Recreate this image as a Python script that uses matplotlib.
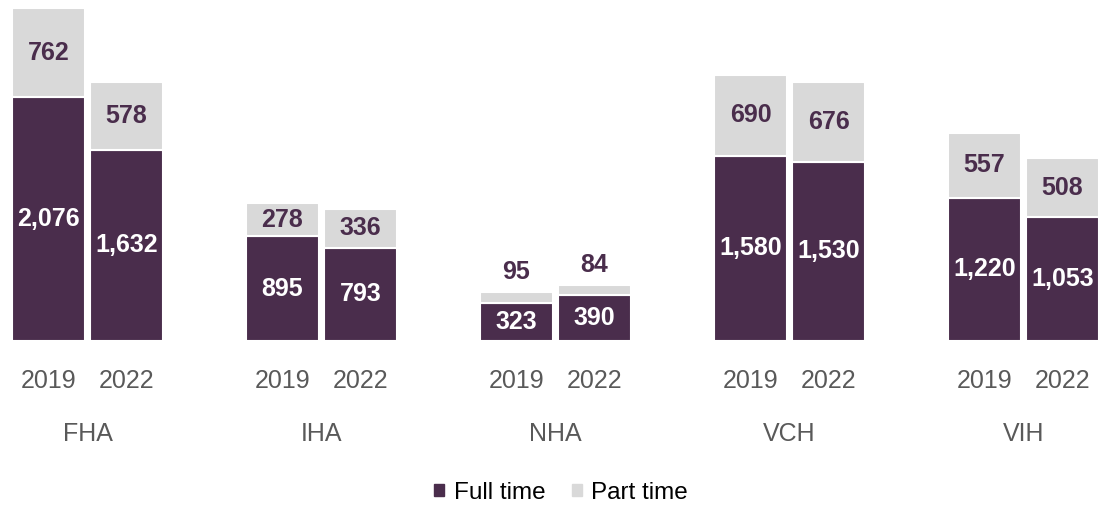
import numpy as np
import matplotlib
matplotlib.use('Agg')
import matplotlib.pyplot as plt
from matplotlib.patches import Patch

plt.rcParams['font.family'] = ['Liberation Sans Narrow', 'Liberation Sans', 'DejaVu Sans']

# datos
regiones = ['FHA', 'IHA', 'NHA', 'VCH', 'VIH']
anios = ['2019', '2022']
full_2019 = [2076, 895, 323, 1580, 1220]
full_2022 = [1632, 793, 390, 1530, 1053]
part_2019 = [762, 278, 95, 690, 557]
part_2022 = [578, 336, 84, 676, 508]

morado = '#4A2D4C'
gris = '#D9D9D9'
texto = '#595959'

fig = plt.figure(figsize=(10.98, 5.08), dpi=100)
ax = fig.add_axes([0, 167/508, 1, 341/508])

x = np.arange(len(regiones))
ancho = 0.312
desp = 0.1667

posiciones = []
etiquetas = []
for k, (full, part) in enumerate([(full_2019, part_2019), (full_2022, part_2022)]):
    xs = x + (k * 2 - 1) * desp
    ax.bar(xs, full, ancho, color=morado, edgecolor='white', linewidth=1.5)
    ax.bar(xs, part, ancho, bottom=full, color=gris, edgecolor='white', linewidth=1.5)
    for xi, f, p in zip(xs, full, part):
        ax.text(xi, f / 2, f'{f:,}', ha='center', va='center', color='white',
                fontsize=18, fontweight='bold')
        if p > 200:
            ax.text(xi, f + p / 2, f'{p:,}', ha='center', va='center', color=morado,
                    fontsize=18, fontweight='bold')
        else:
            # segmento muy pequeño: etiqueta arriba
            ax.text(xi, f + p + 70, f'{p:,}', ha='center', va='bottom', color=morado,
                    fontsize=18, fontweight='bold')
    posiciones += list(xs)
    etiquetas += [anios[k]] * len(xs)

ax.set_xticks(posiciones)
ax.set_xticklabels(etiquetas, fontsize=18, color=texto)
ax.tick_params(axis='x', length=0, pad=20)
ax.set_yticks([])
for s in ax.spines.values():
    s.set_visible(False)

for xi, r in zip(x, regiones):
    ax.text(xi, -0.273, r, transform=ax.get_xaxis_transform(), ha='center', va='center',
            fontsize=18, color=texto)

ax.set_xlim(-87.5 / 234, (1098 - 87.5) / 234)
ax.set_ylim(0, 341 / 0.1173)

handles = [Patch(color=morado, label='Full time'), Patch(color=gris, label='Part time')]
fig.legend(handles=handles, loc='center', bbox_to_anchor=(0.511, 15 / 508), ncol=2,
           frameon=False, fontsize=17.5, handlelength=0.4, handleheight=0.4,
           handletextpad=0.4, columnspacing=1.1)

fig.savefig('out.png', dpi=100)
